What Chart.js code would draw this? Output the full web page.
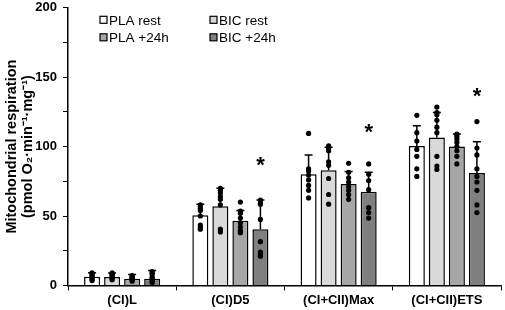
<!DOCTYPE html>
<html>
<head>
<meta charset="utf-8">
<script src="https://cdn.jsdelivr.net/npm/chart.js@4/dist/chart.umd.min.js"></script>
<style>
  html, body { margin: 0; padding: 0; background: #fff; overflow: hidden; }
  #wrap { width: 505px; height: 316px; margin-top: -6px; }
</style>
</head>
<body>
<div id="wrap"><canvas id="chart"></canvas></div>
<script>
const categories = ['(CI)L', '(CI)D5', '(CI+CII)Max', '(CI+CII)ETS'];
const seriesLabels = ['PLA rest', 'BIC rest', 'PLA +24h', 'BIC +24h'];
const seriesColors = ['#ffffff', '#d9d9d9', '#a6a6a6', '#7f7f7f'];

// means
const plaRest = [6.2, 50.5, 80, 100.5];
const bicRest = [6, 57, 83, 106.5];
const pla24h = [4.8, 46.5, 73, 100];
const bic24h = [4.8, 40.5, 67.5, 81];

// SD (drawn upward only)
const plaRestSD = [3, 8, 14, 14.5];
const bicRestSD = [3, 13, 16.5, 18];
const pla24hSD = [3, 7.5, 9, 9];
const bic24hSD = [6, 21, 14, 22.5];

// individual values
const plaRestDots = [
  [3.5, 4.5, 5.5, 6.5, 7.5, 8.5, 9],
  [58, 56.5, 55, 54, 50, 43.5, 42, 40.5],
  [109.5, 84, 82.5, 79.5, 76, 72, 68.5, 63],
  [122.5, 110, 104, 98, 93, 84, 78.5]
];
const bicRestDots = [
  [4, 5, 6, 7, 8, 8.5, 9],
  [70, 68.5, 66.5, 64, 62, 58, 40.5, 38.5],
  [100.5, 99, 97, 89, 86.5, 77, 65.5, 58.5],
  [128.5, 124.5, 123, 119, 114, 110, 93, 86, 83.5]
];
const pla24hDots = [
  [3, 4, 4.5, 5, 5.5, 6, 7],
  [60, 53.5, 52, 48.5, 45, 42, 39.5, 38],
  [88, 81.5, 77.5, 74.5, 71, 68.5, 65.5, 62],
  [109, 107.5, 105.5, 103, 100, 97, 93, 87.5]
];
const bic24hDots = [
  [2, 3, 4, 5, 6, 8, 9, 10],
  [61.5, 59.5, 58.5, 47.5, 31.5, 24, 22, 21],
  [87.5, 80, 75.5, 69, 56, 52.5, 48.5],
  [118, 99, 94, 84, 78.5, 74.5, 68.5, 58, 52.5]
];

// asterisk (p < 0.05) height, null = none
const bic24hSig = [null, 89, 113, 139];

const yTicks = { min: 0, max: 200, step: 25, labelEvery: 50 };

const means = [plaRest, bicRest, pla24h, bic24h];
const sds = [plaRestSD, bicRestSD, pla24hSD, bic24hSD];
const dots = [plaRestDots, bicRestDots, pla24hDots, bic24hDots];
const sigs = [null, null, null, bic24hSig];

const FONT = '"Liberation Sans", Arial, sans-serif';

const extrasPlugin = {
  id: 'extras',
  afterDatasetsDraw(chart) {
    const ctx = chart.ctx;
    const y = chart.scales.y;
    ctx.save();
    means.forEach((vals, i) => {
      const meta = chart.getDatasetMeta(i);
      meta.data.forEach((bar, j) => {
        const x = bar.x;
        const y0 = y.getPixelForValue(vals[j]);
        const y1 = y.getPixelForValue(vals[j] + sds[i][j]);
        ctx.strokeStyle = '#000';
        ctx.lineWidth = 1.5;
        ctx.beginPath();
        ctx.moveTo(x, y0);
        ctx.lineTo(x, y1);
        ctx.moveTo(x - 4, y1);
        ctx.lineTo(x + 4, y1);
        ctx.stroke();

        ctx.fillStyle = '#000';
        dots[i][j].forEach(v => {
          ctx.beginPath();
          ctx.arc(x, y.getPixelForValue(v), 2.6, 0, Math.PI * 2);
          ctx.fill();
        });

        if (sigs[i] && sigs[i][j] != null) {
          ctx.font = 'bold 22px ' + FONT;
          ctx.textAlign = 'center';
          ctx.textBaseline = 'middle';
          ctx.fillText('*', x, y.getPixelForValue(sigs[i][j]) + 4);
        }
      });
    });
    ctx.restore();
  },
  afterDraw(chart) {
    const ctx = chart.ctx;
    const area = chart.chartArea;
    ctx.save();
    ctx.font = '13.5px ' + FONT;
    ctx.textBaseline = 'middle';
    ctx.textAlign = 'left';
    seriesLabels.forEach((label, i) => {
      const col = i % 2;
      const row = Math.floor(i / 2);
      const bx = area.left + 32 + col * 110;
      const by = area.top + 12 + row * 17.5;
      ctx.fillStyle = seriesColors[i];
      ctx.fillRect(bx, by - 3.5, 7, 7);
      ctx.strokeStyle = '#000';
      ctx.lineWidth = 1.2;
      ctx.strokeRect(bx, by - 3.5, 7, 7);
      ctx.fillStyle = '#000';
      ctx.fillText(label, bx + 9, by + 1);
    });
    ctx.restore();
  }
};

new Chart(document.getElementById('chart'), {
  type: 'bar',
  data: {
    labels: categories,
    datasets: means.map((vals, i) => ({
      label: seriesLabels[i],
      data: vals,
      backgroundColor: seriesColors[i],
      borderColor: '#000',
      borderWidth: 1.5,
      categoryPercentage: 0.74,
      barPercentage: 0.8
    }))
  },
  options: {
    responsive: true,
    maintainAspectRatio: false,
    animation: false,
    layout: { padding: { top: 0, right: 4, left: 4, bottom: 0 } },
    plugins: {
      legend: { display: false },
      tooltip: { enabled: false }
    },
    scales: {
      x: {
        border: { color: '#000', width: 1.5 },
        grid: { drawOnChartArea: false, color: '#000', tickLength: 5, offset: true },
        ticks: { color: '#000', font: { family: FONT, size: 13, weight: 'bold' }, padding: 2 }
      },
      y: {
        min: yTicks.min,
        max: yTicks.max,
        afterFit: scale => { scale.width = 64; },
        border: { color: '#000', width: 1.5 },
        grid: { drawOnChartArea: false, color: '#000', tickLength: 5 },
        ticks: {
          stepSize: yTicks.step,
          color: '#000',
          font: { family: FONT, size: 13, weight: 'bold' },
          padding: 6,
          callback: v => (v % yTicks.labelEvery === 0 ? v : '')
        },
        title: {
          display: true,
          text: ['Mitochondrial respiration', '(pmol O\u2082\u00b7min\u207b\u00b9\u00b7mg\u207b\u00b9)'],
          color: '#000',
          font: { family: FONT, size: 14.5, weight: 'bold', lineHeight: 1.1 },
          padding: { top: 0, bottom: 0 }
        }
      }
    }
  },
  plugins: [extrasPlugin]
});
</script>
</body>
</html>
